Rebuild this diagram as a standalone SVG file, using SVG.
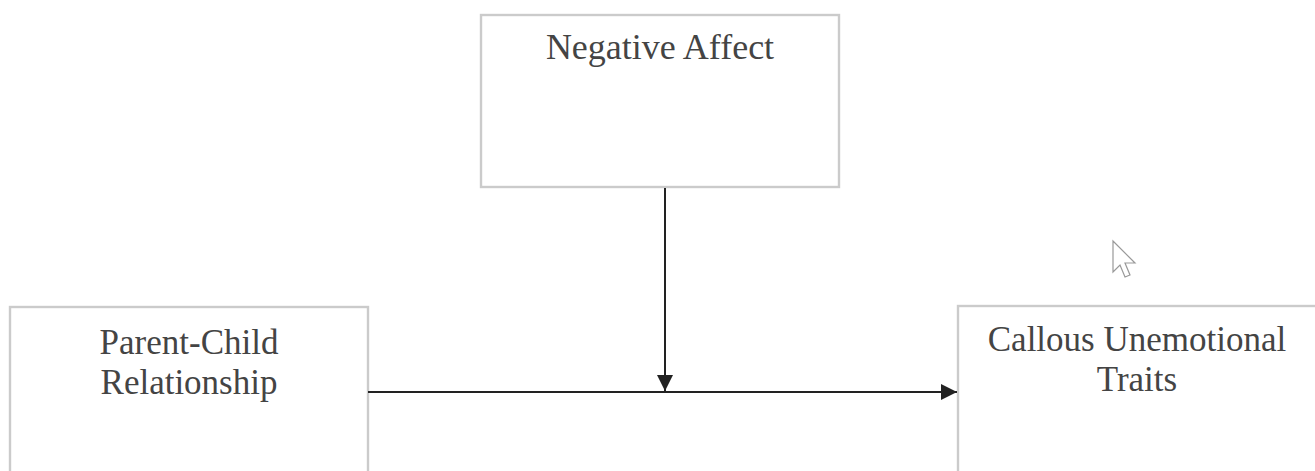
<svg xmlns="http://www.w3.org/2000/svg" width="1315" height="471" viewBox="0 0 1315 471">
<style>
.box{fill:#fff;stroke:#cbcbcb;stroke-width:2.4}
.lbl{font-family:"Liberation Serif","Times New Roman",serif;font-size:35px;fill:#444;text-anchor:middle}
.conn{stroke:#222;stroke-width:2;fill:none}
</style>
<defs>
<marker id="ah" viewBox="0 0 16 16" refX="16" refY="8" markerWidth="16" markerHeight="16" markerUnits="userSpaceOnUse" orient="auto">
<path d="M0,0 L16,8 L0,16 Z" fill="#222"/>
</marker>
</defs>
<rect width="1315" height="471" fill="#fff"/>
<g id="negative-affect">
<rect class="box" x="481" y="15" width="358" height="172"/>
<text class="lbl" x="660" y="59" style="font-size:36px">Negative Affect</text>
</g>
<g id="parent-child">
<rect class="box" x="10" y="307" width="358" height="180"/>
<text class="lbl" x="189" y="354">Parent-Child</text>
<text class="lbl" x="189" y="394">Relationship</text>
</g>
<g id="callous">
<rect class="box" x="958" y="306" width="360" height="180"/>
<text class="lbl" x="1137" y="351">Callous Unemotional</text>
<text class="lbl" x="1137" y="391">Traits</text>
</g>
<g id="connectors">
<line class="conn" x1="665" y1="188" x2="665" y2="391" marker-end="url(#ah)"/>
<line class="conn" x1="368" y1="392" x2="957" y2="392" marker-end="url(#ah)"/>
</g>
<path d="M1113,241 L1113,272 L1120,265 L1125,277 L1130,275 L1125,263 L1135,263 Z" fill="#fff" stroke="#999" stroke-width="1.2"/>
</svg>
